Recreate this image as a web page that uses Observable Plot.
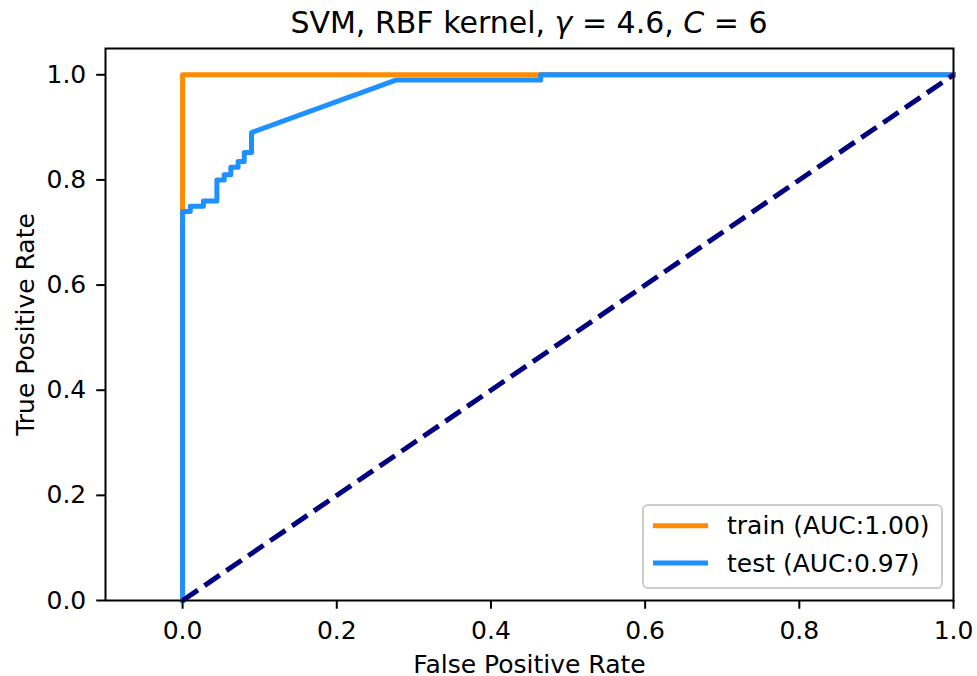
<!DOCTYPE html>
<html><head><meta charset="utf-8">
<script src="https://cdn.jsdelivr.net/npm/d3@7"></script>
<script src="https://cdn.jsdelivr.net/npm/@observablehq/plot@0.6"></script>
<style>body{margin:0;background:#fff} svg{font-family:"DejaVu Sans",sans-serif}</style>
</head><body><div id="chart"></div>
<script>
// ROC data
const trainFpr = [0, 0, 1];
const trainTpr = [0, 1, 1];
const testFpr = [0, 0, 0.01, 0.01, 0.027, 0.027, 0.0445, 0.0445, 0.054, 0.054, 0.0626, 0.0626, 0.072, 0.072, 0.080, 0.080, 0.0894, 0.0894, 0.2766, 0.4645, 0.4645, 1];
const testTpr = [0, 0.74, 0.74, 0.75, 0.75, 0.76, 0.76, 0.80, 0.80, 0.81, 0.81, 0.824, 0.824, 0.835, 0.835, 0.852, 0.852, 0.89, 0.99, 0.99, 1, 1];
const diagFpr = [0, 1];
const diagTpr = [0, 1];
const tickValues = [0, 0.2, 0.4, 0.6, 0.8, 1.0];
const seriesLabels = ["train (AUC:1.00)", "test (AUC:0.97)"];
const seriesColors = ["#ff8c00", "#1e90ff"];
const diagColor = "#000080";
const xLabel = "False Positive Rate";
const yLabel = "True Positive Rate";

const train = trainFpr.map((x, i) => ({x, y: trainTpr[i]}));
const test = testFpr.map((x, i) => ({x, y: testTpr[i]}));
const diag = diagFpr.map((x, i) => ({x, y: diagTpr[i]}));

const W = 977, H = 676, mL = 105, mR = 24, mT = 48, mB = 76;
const FS = 25, TFS = 30;
const LW = 5;
const FONT = "'DejaVu Sans', sans-serif";
const fmt = d3.format(".1f");

const chart = Plot.plot({
  width: W, height: H,
  marginLeft: mL, marginRight: mR, marginTop: mT, marginBottom: mB,
  style: {fontFamily: FONT, fontSize: FS + "px", background: "white", color: "black", overflow: "visible"},
  x: {domain: [-0.1, 1.0]},
  y: {domain: [0, 1.05]},
  marks: [
    Plot.line(train, {x: "x", y: "y", stroke: seriesColors[0], strokeWidth: LW, strokeLinejoin: "round", strokeLinecap: "square"}),
    Plot.line(test, {x: "x", y: "y", stroke: seriesColors[1], strokeWidth: LW, strokeLinejoin: "round", strokeLinecap: "square"}),
    Plot.line(diag, {x: "x", y: "y", stroke: diagColor, strokeWidth: LW, strokeDasharray: "18.5,8", strokeLinecap: "butt"}),
    Plot.frame({stroke: "black", strokeWidth: 2}),
    Plot.axisX({ticks: tickValues, tickFormat: fmt, tickSize: 8.75, tickPadding: 11.5, label: null, fontSize: FS, strokeWidth: 2}),
    Plot.axisY({ticks: tickValues, tickFormat: fmt, tickSize: 8.75, tickPadding: 10.5, label: null, fontSize: FS, strokeWidth: 2}),
    Plot.text([xLabel], {text: d => d, frameAnchor: "bottom", textAnchor: "middle", lineAnchor: "bottom", dy: 72, fontSize: FS, fill: "black"}),
    Plot.text([yLabel], {text: d => d, frameAnchor: "left", textAnchor: "middle", rotate: -90, lineAnchor: "bottom", dx: -72, fontSize: FS, fill: "black"})
  ]
});
document.getElementById("chart").appendChild(chart);

const svg = d3.select(chart);
// Title with italic math symbols
const title = svg.append("text")
  .attr("x", mL + (W - mL - mR) / 2).attr("y", 33)
  .style("text-anchor", "middle").style("font-size", TFS + "px").style("fill", "black")
  .style("font-family", FONT);
title.append("tspan").text("SVM, RBF kernel, ");
title.append("tspan").style("font-style", "italic").text("γ");
title.append("tspan").text(" = 4.6, ");
title.append("tspan").style("font-style", "italic").text("C");
title.append("tspan").text(" = 6");

// Legend (lower right inside the frame)
const legW = 299, legH = 83;
const legX = W - mR - 11 - legW, legY = H - mB - 12 - legH;
const lg = svg.append("g");
lg.append("rect").attr("x", legX).attr("y", legY).attr("width", legW).attr("height", legH)
  .attr("rx", 5).attr("fill", "white").attr("fill-opacity", 0.8)
  .attr("stroke", "#cccccc").attr("stroke-width", 2);
seriesLabels.forEach((lab, i) => {
  const cy = legY + 20.7 + i * 37.3;
  lg.append("line").attr("x1", legX + 10).attr("x2", legX + 65).attr("y1", cy).attr("y2", cy)
    .attr("stroke", seriesColors[i]).attr("stroke-width", LW);
  lg.append("text").attr("x", legX + 84).attr("y", cy).attr("dy", "0.35em")
    .style("text-anchor", "start").style("font-size", FS + "px").style("fill", "black")
    .style("font-family", FONT).text(lab);
});
</script>
</body></html>
